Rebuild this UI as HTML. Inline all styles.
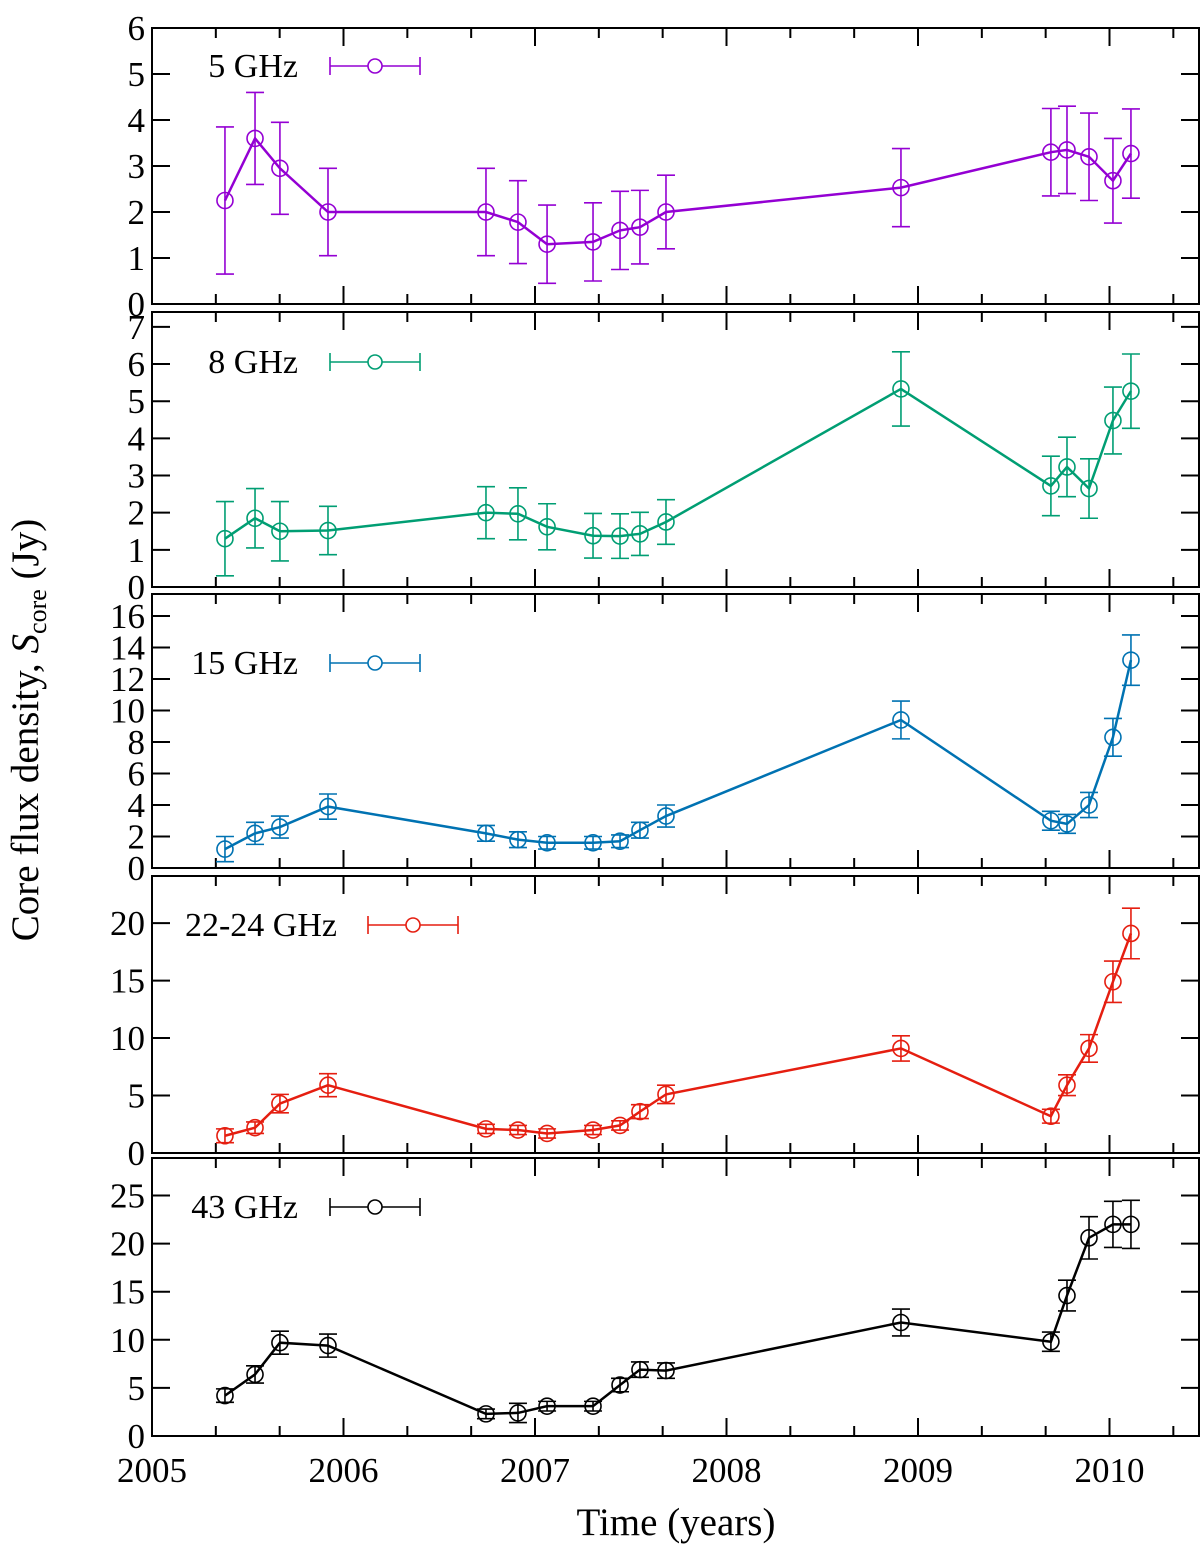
<!DOCTYPE html>
<html><head><meta charset="utf-8"><style>
html,body{margin:0;padding:0;background:#fff}
svg{display:block}
text{font-family:"Liberation Serif","DejaVu Serif",serif;fill:#000}
</style></head><body>
<svg id="chart" width="1200" height="1547" viewBox="0 0 1200 1547" xmlns="http://www.w3.org/2000/svg"></svg>
<script>
const times=[2005.381,2005.538,2005.668,2005.919,2006.744,2006.911,2007.063,2007.303,2007.444,2007.548,2007.684,2008.911,2009.694,2009.778,2009.893,2010.018,2010.112];
const f5=[2.25,3.6,2.95,2.0,2.0,1.78,1.3,1.35,1.6,1.67,2.0,2.53,3.3,3.35,3.2,2.68,3.27];
const e5=[1.6,1.0,1.0,0.95,0.95,0.9,0.85,0.85,0.85,0.8,0.8,0.85,0.95,0.95,0.95,0.92,0.97];
const f8=[1.3,1.85,1.5,1.52,2.0,1.97,1.62,1.38,1.37,1.43,1.75,5.33,2.72,3.23,2.65,4.48,5.27];
const e8=[1.0,0.8,0.8,0.65,0.7,0.7,0.62,0.6,0.6,0.58,0.6,1.0,0.8,0.8,0.8,0.9,1.0];
const f15=[1.2,2.2,2.6,3.9,2.2,1.8,1.6,1.6,1.7,2.4,3.3,9.4,3.0,2.8,4.0,8.3,13.2];
const e15=[0.8,0.7,0.7,0.8,0.5,0.5,0.4,0.4,0.4,0.5,0.7,1.2,0.6,0.6,0.8,1.2,1.6];
const f22=[1.5,2.2,4.3,5.9,2.1,2.0,1.7,2.0,2.4,3.6,5.1,9.1,3.2,5.9,9.1,14.9,19.1];
const e22=[0.6,0.5,0.8,1.0,0.4,0.4,0.4,0.4,0.4,0.6,0.8,1.1,0.6,0.9,1.2,1.8,2.2];
const f43=[4.2,6.4,9.7,9.4,2.3,2.4,3.1,3.1,5.3,6.9,6.8,11.8,9.8,14.6,20.6,22.0,22.0];
const e43=[0.7,0.9,1.2,1.2,0.5,1.0,0.5,0.5,0.7,0.8,0.8,1.4,1.0,1.6,2.2,2.4,2.5];
const xTicks=[2005,2006,2007,2008,2009,2010];

const NS="http://www.w3.org/2000/svg";
const svg=document.getElementById('chart');
function mk(tag,attrs,parent){const e=document.createElementNS(NS,tag);for(const k in attrs)e.setAttribute(k,attrs[k]);(parent||svg).appendChild(e);return e;}
const X0=152,X1=1199;
const xs=t=>X0+(t-2005)*191.5;

const panels=[
 {name:'5-ghz',label:'5 GHz',color:'#9400d3',top:28,bot:304,ymax:6,ticks:[0,1,2,3,4,5,6],vals:f5,errs:e5,lx:298,ll:330,ly:66},
 {name:'8-ghz',label:'8 GHz',color:'#009e73',top:312,bot:587,ymax:7.4,ticks:[0,1,2,3,4,5,6,7],vals:f8,errs:e8,lx:298,ll:330,ly:362},
 {name:'15-ghz',label:'15 GHz',color:'#0072b2',top:594,bot:868,ymax:17.4,ticks:[0,2,4,6,8,10,12,14,16],vals:f15,errs:e15,lx:298,ll:330,ly:663},
 {name:'22-24-ghz',label:'22-24 GHz',color:'#e51e10',top:876,bot:1153,ymax:24.1,ticks:[0,5,10,15,20],vals:f22,errs:e22,lx:337,ll:368,ly:925},
 {name:'43-ghz',label:'43 GHz',color:'#000000',top:1158,bot:1436,ymax:28.9,ticks:[0,5,10,15,20,25],vals:f43,errs:e43,lx:298,ll:330,ly:1207}
];

panels.forEach((p,pi)=>{
 const g=mk('g',{});
 
 
 const ys=v=>p.bot-v*(p.bot-p.top)/p.ymax;
 const frame=mk('rect',{x:X0,y:p.top,width:X1-X0,height:p.bot-p.top,fill:'none',stroke:'#000','stroke-width':2},g);
 
 
 p.ticks.forEach(v=>{
  const y=ys(v);
  if(y<p.top-1) return;
  mk('line',{x1:X0,x2:X0+18,y1:y,y2:y,stroke:'#000','stroke-width':2},g);
  mk('line',{x1:X1-18,x2:X1,y1:y,y2:y,stroke:'#000','stroke-width':2},g);
  const t=mk('text',{x:X0-7,y:y+12,'font-size':35,'text-anchor':'end'},g);
  t.textContent=v;
  
  
 });
 for(let k=1;k<=16;k++){
  const yy=2005+k/3;
  const major=k%3===0;
  const L=major?18:10;const x=xs(yy);
  if(x>X1-2) continue;
  mk('line',{x1:x,x2:x,y1:p.bot,y2:p.bot-L,stroke:'#000','stroke-width':2},g);
  mk('line',{x1:x,x2:x,y1:p.top,y2:p.top+L,stroke:'#000','stroke-width':2},g);
 }
 const pts=times.map((t,i)=>xs(t)+','+ys(p.vals[i])).join(' ');
 const pl=mk('polyline',{points:pts,fill:'none',stroke:p.color,'stroke-width':2.5},g);
 
 
 times.forEach((t,i)=>{
  const x=xs(t),y=ys(p.vals[i]),lo=ys(p.vals[i]-p.errs[i]),hi=ys(p.vals[i]+p.errs[i]);
  const pg=mk('g',{stroke:p.color,'stroke-width':1.6,fill:'none'},g);
  
  
  mk('line',{x1:x,x2:x,y1:lo,y2:hi},pg);
  mk('line',{x1:x-9,x2:x+9,y1:lo,y2:lo},pg);
  mk('line',{x1:x-9,x2:x+9,y1:hi,y2:hi},pg);
  mk('circle',{cx:x,cy:y,r:8},pg);
 });
 const lg=mk('g',{},g);
 
 
 const ly=p.ly;
 const lt=mk('text',{x:p.lx,y:ly+11,'font-size':34,'text-anchor':'end'},lg);
 lt.textContent=p.label;
 const ls=mk('g',{stroke:p.color,'stroke-width':1.6,fill:'none'},lg);
 mk('line',{x1:p.ll,x2:p.ll+90,y1:ly,y2:ly},ls);
 mk('line',{x1:p.ll,x2:p.ll,y1:ly-9,y2:ly+9},ls);
 mk('line',{x1:p.ll+90,x2:p.ll+90,y1:ly-9,y2:ly+9},ls);
 mk('circle',{cx:p.ll+45,cy:ly,r:7,fill:'#fff'},ls);
});
xTicks.forEach(v=>{
 const t=mk('text',{x:xs(v),y:1482,'font-size':35,'text-anchor':'middle'});
 t.textContent=v;
 
 
});
const xt=mk('text',{x:676,y:1535,'font-size':39,'text-anchor':'middle'});
xt.textContent='Time (years)';


const yt=mk('text',{x:0,y:0,'font-size':39,'text-anchor':'middle',transform:'translate(38,730) rotate(-90)'});


yt.innerHTML='Core flux density, <tspan font-style="italic">S</tspan><tspan font-size="26" dy="8">core</tspan><tspan dy="-8"> (Jy)</tspan>';
</script>
</body></html>
